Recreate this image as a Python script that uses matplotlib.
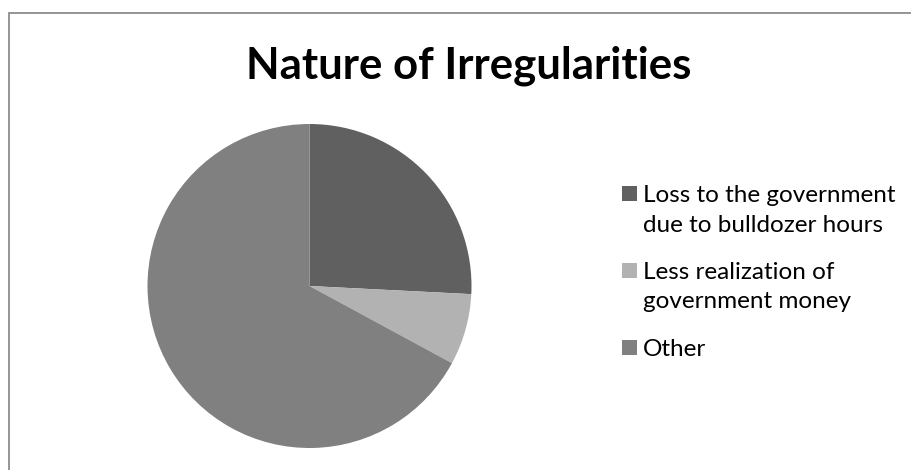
import matplotlib
matplotlib.use("Agg")
import matplotlib.pyplot as plt
from matplotlib.patches import Rectangle

# share of each kind of irregularity (percent)
categories = ["Loss to the government\ndue to bulldozer hours",
              "Less realization of\ngovernment money",
              "Other"]
shares = [25.8, 7.1, 67.1]
colours = ["#606060", "#b2b2b2", "#808080"]

W, H = 912, 470  # figure size in pixels


def fx(px):  # pixel x -> figure fraction
    return px / W


def fy(py):  # pixel y (from top) -> figure fraction
    return 1 - py / H


fig = plt.figure(figsize=(W / 100, H / 100), dpi=100)
fig.patch.set_facecolor("white")

# chart border, only the top and left sides fall inside the canvas
fig.add_artist(Rectangle((fx(9), -0.1), 1.2, fy(12.5) + 0.1, transform=fig.transFigure,
                         fill=False, edgecolor="#8c8c8c", linewidth=1.3, clip_on=False))

fig.text(fx(469), fy(78), "Nature of Irregularities", ha="center", va="baseline",
         fontsize=31.5, fontweight="bold", family="Lato", color="black")

# pie, centred at (309.5, 286) px with radius 162 px
cx, cy, r = 309.5, 286, 162
ax = fig.add_axes([fx(cx - r), fy(cy + r), 2 * r / W, 2 * r / H])
ax.pie(shares, colors=colours, startangle=90, counterclock=False, radius=1,
       wedgeprops=dict(linewidth=0))
ax.set_xlim(-1, 1)
ax.set_ylim(-1, 1)
ax.set_aspect("auto")
ax.axis("off")

# legend on the right, square markers next to the first line of each label
first_base = 202
item_step = 77
line_step = 29.5
for i, (lab, col) in enumerate(zip(categories, colours)):
    base = first_base + item_step * i
    fig.add_artist(Rectangle((fx(622), fy(base - 1)), 15 / W, 15 / H,
                             transform=fig.transFigure, facecolor=col, edgecolor="none"))
    for j, line in enumerate(lab.split("\n")):
        fig.text(fx(643), fy(base + j * line_step), line, ha="left", va="baseline",
                 fontsize=17.5, family="Lato", color="black")

fig.savefig("out.png", dpi=100)
